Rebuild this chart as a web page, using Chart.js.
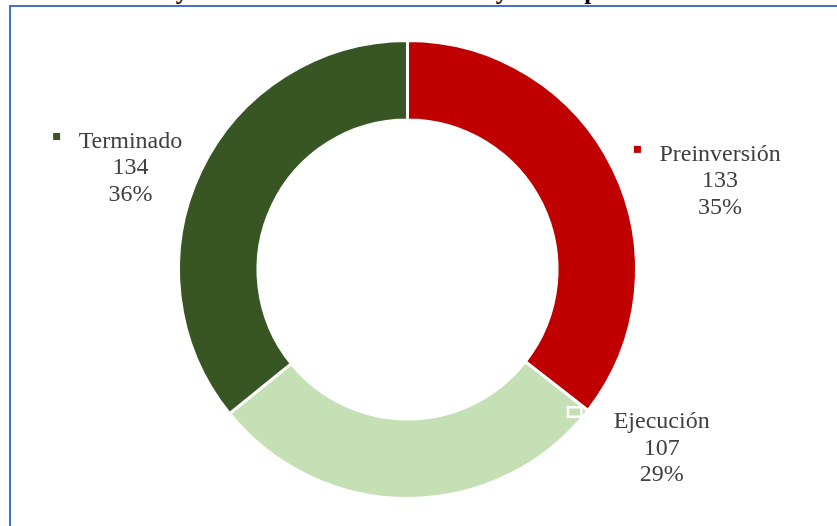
<!DOCTYPE html>
<html>
<head>
<meta charset="utf-8">
<script src="https://cdn.jsdelivr.net/npm/chart.js@4.4.1/dist/chart.umd.min.js"></script>
<style>
    html, body { margin: 0; padding: 0; background: #fff; overflow: hidden; }
    #wrap { position: relative; width: 837px; height: 526px; }
    #frame {
        position: absolute; left: 9px; top: 5px; width: 840px; height: 540px;
        border: 2px solid #4472C4; box-sizing: border-box;
    }
    #title {
        position: absolute; left: 138px; top: -23px; white-space: nowrap;
        font: bold 24.5px "Liberation Serif", "Times New Roman", serif; color: #000;
    }
    canvas { position: absolute; left: 0; top: 0; }
</style>
</head>
<body>
<div id="wrap">
    <div id="title">Proyectos de inversión en marcha y sus etapas</div>
    <div id="frame"></div>
    <canvas id="chart" width="837" height="526"></canvas>
</div>
<script>
// data
const categories = ['Preinversión', 'Ejecución', 'Terminado'];
const counts = [133, 107, 134];
const percentLabels = ['35%', '29%', '36%'];
const sliceColors = ['#C00000', '#C5E0B4', '#375623'];

// where each data label sits: angle from 12 o'clock (deg), distance in outer radii
const labelPlacement = [
    { angle: 74.0, dist: 1.42, markerGap: 22, hollow: false },
    { angle: 125.0, dist: 1.355, markerGap: 39, hollow: true },
    { angle: 290.3, dist: 1.29, markerGap: 22, hollow: false },
];

const outsideLabels = {
    id: 'outsideLabels',
    afterDatasetsDraw(chart) {
        const ctx = chart.ctx;
        const meta = chart.getDatasetMeta(0);
        const arc0 = meta.data[0];
        const cx = arc0.x, cy = arc0.y, R = arc0.outerRadius;
        const lineH = 26.5;

        ctx.save();
        ctx.font = '24px "Liberation Serif", "Times New Roman", serif';
        ctx.textAlign = 'center';
        ctx.textBaseline = 'middle';

        categories.forEach((name, i) => {
            const p = labelPlacement[i];
            const a = p.angle * Math.PI / 180;
            const x = cx + Math.sin(a) * p.dist * R;
            const y = cy - Math.cos(a) * p.dist * R;
            const lines = [name, String(counts[i]), percentLabels[i]];

            ctx.fillStyle = '#404040';
            lines.forEach((t, k) => ctx.fillText(t, x, y + (k - 1) * lineH + 1));

            const w = ctx.measureText(name).width;
            const mx = x - w / 2 - p.markerGap;
            if (p.hollow) {
                const my = y - lineH - 9;
                ctx.fillStyle = '#ffffff';
                ctx.fillRect(mx - 8, my - 6, 16, 12);
                ctx.fillStyle = sliceColors[i];
                ctx.fillRect(mx - 5.5, my - 3.5, 11, 7);
            } else {
                const my = y - lineH - 4;
                ctx.fillStyle = sliceColors[i];
                ctx.fillRect(mx - 3.5, my - 3.5, 7, 7);
            }
        });
        ctx.restore();
    },
};

new Chart(document.getElementById('chart'), {
    type: 'doughnut',
    data: {
        labels: categories,
        datasets: [{
            data: counts,
            backgroundColor: sliceColors,
            borderColor: '#ffffff',
            borderWidth: 3,
            hoverOffset: 0,
        }],
    },
    options: {
        responsive: false,
        animation: false,
        radius: 229,
        cutout: '65.3%',
        layout: { padding: { left: 100, right: 122, top: 20, bottom: 7 } },
        plugins: {
            legend: { display: false },
            tooltip: { enabled: false },
        },
    },
    plugins: [outsideLabels],
});
</script>
</body>
</html>
